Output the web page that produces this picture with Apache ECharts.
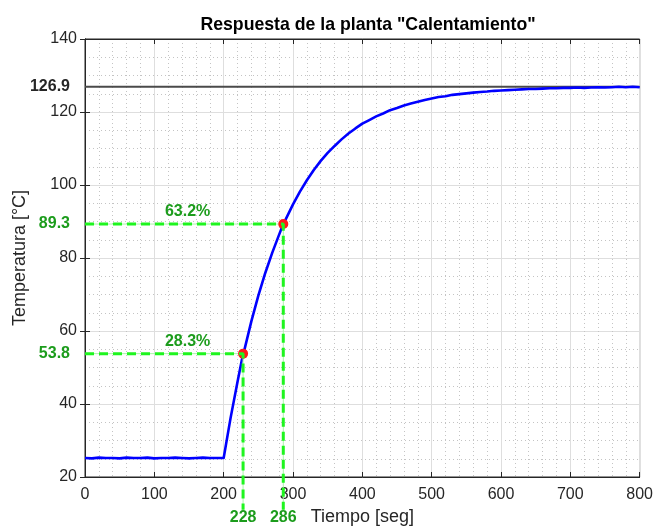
<!DOCTYPE html>
<html>
<head>
<meta charset="utf-8">
<title>Respuesta de la planta "Calentamiento"</title>
<script src="https://cdn.jsdelivr.net/npm/echarts@6/dist/echarts.min.js"></script>
<style>
  html, body { margin: 0; padding: 0; background: #ffffff; }
  #chart { width: 656px; height: 531px; }
</style>
</head>
<body>
<div id="chart"></div>
<script>
// Tiempo de muestreo [seg] y temperatura medida [°C]
const tiempo = [
  0, 10, 20, 30, 40, 50, 60, 70, 80, 90,
  100, 110, 120, 130, 140, 150, 160, 170, 180, 190,
  200, 210, 220, 228, 230, 240, 250, 260, 270, 280,
  286, 290, 300, 310, 320, 330, 340, 350, 360, 370,
  380, 390, 400, 410, 420, 430, 440, 450, 460, 470,
  480, 490, 500, 510, 520, 530, 540, 550, 560, 570,
  580, 590, 600, 610, 620, 630, 640, 650, 660, 670,
  680, 690, 700, 710, 720, 730, 740, 750, 760, 770,
  780, 790, 800
];
const temperatura = [
  25.2, 25.1, 25.3, 25.2, 25.2, 25.1, 25.3, 25.2, 25.2, 25.3,
  25.1, 25.2, 25.2, 25.3, 25.2, 25.1, 25.2, 25.3, 25.2, 25.2,
  25.2, 36.2, 46.1, 53.8, 54.9, 62.7, 69.7, 75.9, 81.4, 86.4,
  89.3, 90.8, 94.7, 98.2, 101.3, 104.1, 106.6, 108.8, 110.7, 112.5,
  114.1, 115.5, 116.8, 117.8, 118.8, 119.6, 120.5, 121.1, 121.8, 122.3,
  122.8, 123.3, 123.7, 124.1, 124.3, 124.7, 124.9, 125.1, 125.3, 125.5,
  125.6, 125.8, 125.9, 126.0, 126.1, 126.2, 126.3, 126.3, 126.4, 126.5,
  126.5, 126.6, 126.6, 126.7, 126.6, 126.7, 126.8, 126.7, 126.8, 126.9,
  126.8, 126.9, 126.8
];

// Ejes
const ticksX = [0, 100, 200, 300, 400, 500, 600, 700, 800];
const ticksY = [20, 40, 60, 80, 100, 120, 140];

// Valor final y puntos característicos (28.3% y 63.2%)
const valorFinal = 126.9;
const puntosT = [228, 286];
const puntosY = [53.8, 89.3];
const porcentajes = ['28.3%', '63.2%'];

// Estilo
const verdeTexto = '#1c9c1c';
const verdeLinea = '#1ff51f';
const etiquetaT = 148;        // posición horizontal de los porcentajes
const finGuia = 11.0;         // las guías verticales bajan hasta los rótulos

const fuente = '"Liberation Sans", Arial, Helvetica, sans-serif';
const gris = '#262626';

const xMin = ticksX[0], xMax = ticksX[ticksX.length - 1], xInt = ticksX[1] - ticksX[0];
const yMin = ticksY[0], yMax = ticksY[ticksY.length - 1], yInt = ticksY[1] - ticksY[0];

const curva = tiempo.map((t, i) => [t, temperatura[i]]);
const guias = puntosT.map((t, i) => [[xMin, puntosY[i]], [t, puntosY[i]], [t, finGuia]]);

const series = [];

// Línea de valor final
series.push({
  type: 'line', xAxisIndex: 0, yAxisIndex: 0,
  data: [[xMin, valorFinal], [xMax, valorFinal]],
  symbol: 'none', silent: true, z: 3,
  lineStyle: { color: '#4a4a4a', width: 2 }
});

// Respuesta medida
series.push({
  type: 'line', xAxisIndex: 0, yAxisIndex: 0,
  data: curva, symbol: 'none', silent: true, z: 4,
  lineStyle: { color: '#0000ff', width: 2.6, join: 'round' }
});

// Guías: trazo fino continuo bajo el trazo discontinuo
guias.forEach(g => {
  series.push({
    type: 'line', xAxisIndex: 0, yAxisIndex: 0,
    data: g, symbol: 'none', silent: true, clip: false, z: 5,
    lineStyle: { color: '#a8f7a8', width: 1 }
  });
});

// Puntos característicos
series.push({
  type: 'scatter', xAxisIndex: 0, yAxisIndex: 0,
  data: puntosT.map((t, i) => [t, puntosY[i]]),
  symbol: 'circle', symbolSize: 10, silent: true, z: 6,
  itemStyle: { color: '#ff1a1a', opacity: 1 }
});

guias.forEach(g => {
  series.push({
    type: 'line', xAxisIndex: 0, yAxisIndex: 0,
    data: g, symbol: 'none', silent: true, clip: false, z: 7,
    lineStyle: { color: verdeLinea, width: 3, type: [9, 5] }
  });
});

// Porcentajes sobre las guías horizontales
series.push({
  type: 'scatter', xAxisIndex: 0, yAxisIndex: 0,
  data: puntosY.map((y, i) => ({ value: [etiquetaT, y], name: porcentajes[i] })),
  symbol: 'circle', symbolSize: 0, silent: true, z: 8,
  itemStyle: { color: '#ffffff', opacity: 1 },
  label: {
    show: true, position: 'top', distance: 4,
    formatter: p => p.name,
    color: verdeTexto, fontFamily: fuente, fontWeight: 'bold', fontSize: 16
  }
});

const chart = echarts.init(document.getElementById('chart'), null, { renderer: 'canvas' });

chart.setOption({
  animation: false,
  backgroundColor: '#ffffff',
  title: {
    text: 'Respuesta de la planta "Calentamiento"',
    left: 363, top: 11, textAlign: 'center',
    textStyle: { fontFamily: fuente, fontWeight: 'bold', fontSize: 17.7, color: '#000000' }
  },
  grid: {
    left: 85, right: 15, top: 39, bottom: 52,
    show: true, borderColor: gris, borderWidth: 1, backgroundColor: 'transparent'
  },
  xAxis: [
    {
      type: 'value', position: 'bottom', min: xMin, max: xMax, interval: xInt,
      name: 'Tiempo [seg]', nameLocation: 'middle', nameGap: 31,
      nameTextStyle: { fontFamily: fuente, fontSize: 18, color: gris },
      axisLine: { show: true, lineStyle: { color: gris, width: 1 } },
      axisTick: { show: true, inside: true, length: 5, lineStyle: { color: gris } },
      axisLabel: { fontFamily: fuente, fontSize: 16, color: gris, margin: 10 },
      splitLine: { show: true, lineStyle: { color: '#dedede', width: 1 } },
      minorTick: { show: false, splitNumber: 5 },
      minorSplitLine: { show: true, lineStyle: { color: '#c4c4c4', width: 1, type: [1, 3] } }
    },
    {
      type: 'value', position: 'top', min: xMin, max: xMax, interval: xInt,
      axisLine: { show: true, lineStyle: { color: gris } },
      axisTick: { show: true, inside: true, length: 5, lineStyle: { color: gris } },
      axisLabel: { show: false }, splitLine: { show: false }
    },
    {
      type: 'value', position: 'bottom', min: xMin, max: xMax,
      axisLine: { show: false }, axisTick: { show: false }, splitLine: { show: false },
      axisLabel: {
        customValues: puntosT, margin: 33, fontFamily: fuente, fontWeight: 'bold',
        fontSize: 16, color: verdeTexto, hideOverlap: false
      }
    }
  ],
  yAxis: [
    {
      type: 'value', position: 'left', min: yMin, max: yMax, interval: yInt,
      name: 'Temperatura [°C]', nameLocation: 'middle', nameGap: 56,
      nameTextStyle: { fontFamily: fuente, fontSize: 18, color: gris },
      axisLine: { show: true, lineStyle: { color: gris, width: 1 } },
      axisTick: { show: true, inside: true, length: 5, lineStyle: { color: gris } },
      axisLabel: { fontFamily: fuente, fontSize: 16, color: gris, margin: 8 },
      splitLine: { show: true, lineStyle: { color: '#dedede', width: 1 } },
      minorTick: { show: false, splitNumber: 4 },
      minorSplitLine: { show: true, lineStyle: { color: '#c4c4c4', width: 1, type: [1, 3] } }
    },
    {
      type: 'value', position: 'right', min: yMin, max: yMax, interval: yInt,
      axisLine: { show: true, lineStyle: { color: gris } },
      axisTick: { show: true, inside: true, length: 5, lineStyle: { color: gris } },
      axisLabel: { show: false }, splitLine: { show: false }
    },
    {
      type: 'value', position: 'left', min: yMin, max: yMax,
      axisLine: { show: false }, axisTick: { show: false }, splitLine: { show: false },
      axisLabel: {
        customValues: puntosY.concat([valorFinal]), margin: 15, hideOverlap: false,
        formatter: v => (v === valorFinal ? '{k|' : '{g|') + v.toFixed(1) + '}',
        rich: {
          k: { fontFamily: fuente, fontWeight: 'bold', fontSize: 16, color: gris },
          g: { fontFamily: fuente, fontWeight: 'bold', fontSize: 16, color: verdeTexto }
        }
      }
    }
  ],
  series: series
});
</script>
</body>
</html>
